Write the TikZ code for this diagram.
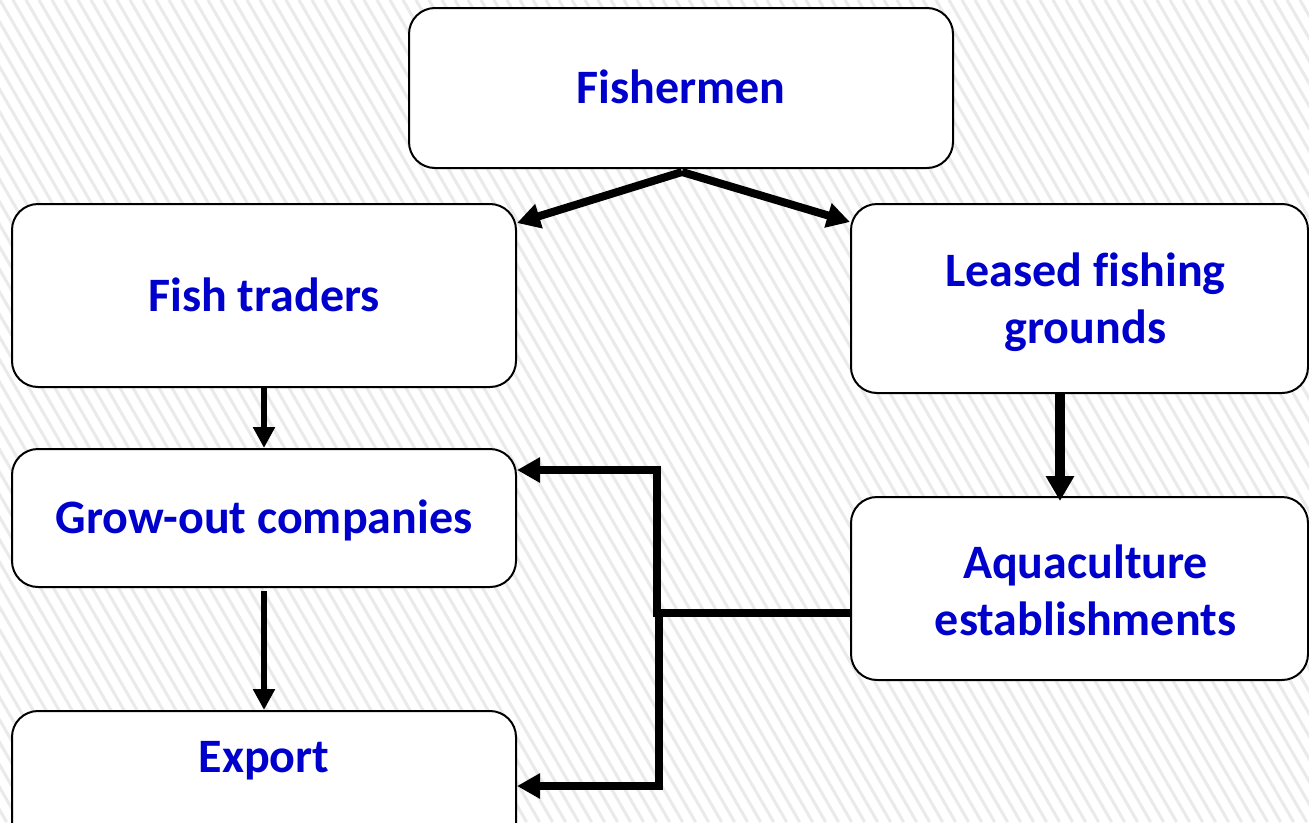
\documentclass[tikz,border=0pt]{standalone}
\usepackage{fontspec}
\setmainfont[Ligatures=NoCommon]{Carlito}
\usetikzlibrary{arrows.meta}
\definecolor{tblue}{RGB}{0,0,204}
\definecolor{stripe}{RGB}{234,234,234}
\tikzset{
  lbl/.style={text=tblue, font=\fontsize{48}{57}\selectfont\bfseries},
  box/.style={draw=black, line width=2pt, fill=white, rounded corners=26pt,
    inner sep=0pt, align=center, lbl},
  one/.style={text height=36pt, text depth=5pt},
  conn/.style={line width=8pt, -{Triangle[length=23pt,width=24pt]}},
  connthin/.style={line width=6.5pt, -{Triangle[length=21pt,width=21pt]}},
  connthick/.style={line width=10pt, -{Triangle[length=25pt,width=27pt]}},
  seg/.style={line width=8pt},
}
\begin{document}
\begin{tikzpicture}[x=1pt,y=-1pt]
\useasboundingbox (0,0) rectangle (1309,822);
\fill[white] (0,0) rectangle (1309,822);
\begin{scope}
\clip (0,0) rectangle (1309,822);
\foreach \i in {-38,...,102}{
  \draw[stripe, line width=3pt] (\i*13,0) -- (\i*13+474.6,822);
}
\end{scope}

\node[box, one, minimum width=544pt, minimum height=160pt] (fish) at (681,88) {Fishermen};
\node[box, one, minimum width=504pt, minimum height=183pt] (trad) at (264,295.5) {Fish traders};
\node[box, minimum width=457pt, minimum height=189pt] (lease) at (1079.5,298.5) {};
\node[lbl, align=center, inner sep=0pt] (leaselbl) at (1085.5,302) {Leased fishing\\grounds};
\node[box, one, minimum width=504pt, minimum height=138pt] (grow) at (264,518) {Grow-out companies};
\node[box, minimum width=457pt, minimum height=183pt] (aqua) at (1079.5,588.5) {};
\node[lbl, align=center, inner sep=0pt] (aqualbl) at (1085.5,590) {Aquaculture\\establishments};
\node[box, minimum width=504pt, minimum height=140pt] (exp) at (264,781) {};
\node[lbl, text height=36pt, text depth=5pt, inner sep=0pt] (explbl) at (264,757) {Export};

\coordinate (top) at (682,172);
\coordinate (j) at (657,613);
\coordinate (gy) at (657,470);
\coordinate (ey) at (659,786);

\draw[conn] (top) -- (trad.east |- 0,223);
\draw[conn] (top) -- (lease.west |- 0,222);
\draw[connthin] (trad.south) -- (grow.north);
\draw[connthin] (grow.south -| 264,0) ++(0,3) -- (exp.north);
\draw[connthick] (lease.south -| 1060,0) -- ++(0,107);
\draw[seg] (aqua.west |- j) -- ([xshift=-4pt]j);
\draw[conn] ([yshift=4pt]j) |- (grow.east |- gy);
\draw[conn] ([xshift=2pt,yshift=-4pt]j) |- (exp.east |- ey);
\end{tikzpicture}
\end{document}
